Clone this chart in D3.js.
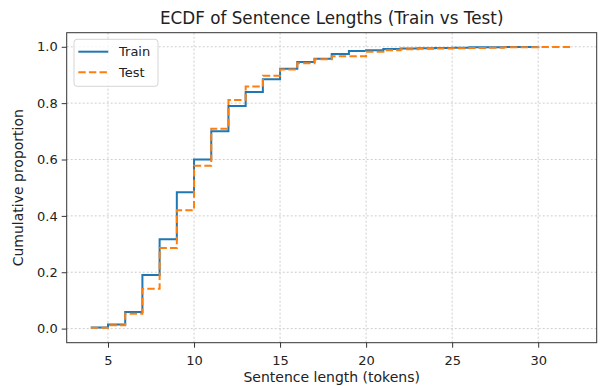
<!DOCTYPE html>
<html>
<head>
<meta charset="utf-8">
<script src="https://cdn.jsdelivr.net/npm/d3@7"></script>
<style>
  html, body { margin: 0; padding: 0; background: #fff; }
  svg { display: block; font-family: "DejaVu Sans", sans-serif; }
</style>
</head>
<body>
<svg id="chart" width="601" height="386"></svg>
<script>
// Sentence lengths (tokens) and cumulative proportion at each length
const trainLengths = [4,5,6,7,8,9,10,11,12,13,14,15,16,17,18,19,20,21,22,23,24,25,26,27,28,29,30];
const trainCdf = [0.004,0.015,0.059,0.190,0.317,0.484,0.600,0.700,0.790,0.840,0.885,0.922,0.946,0.958,0.974,0.985,0.988,0.992,0.994,0.995,0.996,0.997,0.998,0.998,0.999,0.999,1.000];
const testLengths = [4,5,6,7,8,9,10,11,12,13,14,15,16,17,18,19,20,21,22,23,24,25,26,27,28,29,30,31,32];
const testCdf = [0.003,0.012,0.053,0.141,0.286,0.420,0.578,0.709,0.811,0.859,0.897,0.919,0.942,0.956,0.966,0.966,0.982,0.988,0.991,0.993,0.994,0.995,0.996,0.997,0.998,0.998,0.999,0.999,1.000];
const xTicks = [5,10,15,20,25,30];
const yTicks = [0.0,0.2,0.4,0.6,0.8,1.0];
const seriesNames = ["Train","Test"];

const svg = d3.select("#chart");
const plotL = 66.7, plotR = 596.7, plotT = 32.7, plotB = 342.7;

const x = d3.scaleLinear().domain([2.6, 33.4]).range([plotL, plotR]);
const y = d3.scaleLinear().domain([-0.05, 1.05]).range([plotB, plotT]);

// grid
const grid = svg.append("g");
grid.selectAll(".gx").data(xTicks).enter().append("line")
  .attr("x1", d => x(d)).attr("x2", d => x(d))
  .attr("y1", plotT).attr("y2", plotB)
  .attr("stroke", "#c8c8c8").attr("stroke-width", 0.9).attr("stroke-dasharray", "2,2");
grid.selectAll(".gy").data(yTicks).enter().append("line")
  .attr("y1", d => y(d)).attr("y2", d => y(d))
  .attr("x1", plotL).attr("x2", plotR)
  .attr("stroke", "#c8c8c8").attr("stroke-width", 0.9).attr("stroke-dasharray", "2,2");

// ECDF step lines
const line = d3.line().curve(d3.curveStepAfter).x(d => x(d[0])).y(d => y(d[1]));
const trainPts = trainLengths.map((v, i) => [v, trainCdf[i]]);
const testPts = testLengths.map((v, i) => [v, testCdf[i]]);

svg.append("path").datum(trainPts).attr("d", line)
  .attr("fill", "none").attr("stroke", "#1f77b4").attr("stroke-width", 2);
svg.append("path").datum(testPts).attr("d", line)
  .attr("fill", "none").attr("stroke", "#ff7f0e").attr("stroke-width", 2)
  .attr("stroke-dasharray", "7.4,3.2");

// axes
const xAxis = d3.axisBottom(x).tickValues(xTicks).tickSize(5).tickPadding(8).tickFormat(d3.format("d"));
const yAxis = d3.axisLeft(y).tickValues(yTicks).tickSize(5).tickPadding(4).tickFormat(d3.format(".1f"));

const gx = svg.append("g").attr("transform", `translate(0,${plotB})`).call(xAxis);
const gy = svg.append("g").attr("transform", `translate(${plotL},0)`).call(yAxis);
[gx, gy].forEach(g => {
  g.select(".domain").remove();
  g.selectAll(".tick line").attr("stroke", "#333").attr("stroke-width", 1);
  g.selectAll(".tick text").attr("fill", "#222").style("font-size", "13px").style("font-family", "DejaVu Sans, sans-serif");
});

// frame
svg.append("rect").attr("x", plotL).attr("y", plotT)
  .attr("width", plotR - plotL).attr("height", plotB - plotT)
  .attr("fill", "none").attr("stroke", "#333").attr("stroke-width", 1);

// title and labels
svg.append("text").attr("x", (plotL + plotR) / 2).attr("y", 23.5)
  .attr("text-anchor", "middle").style("font-size", "16.8px").attr("fill", "#222")
  .text("ECDF of Sentence Lengths (Train vs Test)");
svg.append("text").attr("x", (plotL + plotR) / 2).attr("y", 382)
  .attr("text-anchor", "middle").style("font-size", "14px").attr("fill", "#222")
  .text("Sentence length (tokens)");
svg.append("text").attr("transform", `translate(23,${(plotT + plotB) / 2}) rotate(-90)`)
  .attr("text-anchor", "middle").style("font-size", "14px").attr("fill", "#222")
  .text("Cumulative proportion");

// legend
const lg = svg.append("g");
lg.append("rect").attr("x", 74).attr("y", 39.3).attr("width", 84).attr("height", 47).attr("rx", 3)
  .attr("fill", "#fff").attr("fill-opacity", 0.8).attr("stroke", "#d5d5d5").attr("stroke-width", 1);
const colors = ["#1f77b4", "#ff7f0e"];
const dashes = [null, "7.4,3.2"];
seriesNames.forEach((name, i) => {
  const yy = 51.7 + i * 20.6;
  lg.append("line").attr("x1", 78.3).attr("x2", 108.3).attr("y1", yy).attr("y2", yy)
    .attr("stroke", colors[i]).attr("stroke-width", 2).attr("stroke-dasharray", dashes[i]);
  lg.append("text").attr("x", 119).attr("y", yy + 4.6)
    .style("font-size", "13px").attr("fill", "#222").text(name);
});
</script>
</body>
</html>
